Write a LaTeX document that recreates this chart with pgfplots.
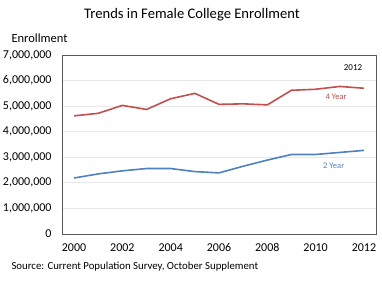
\documentclass[border=0pt]{standalone}
\usepackage{pgfplots}
\pgfplotsset{compat=1.18}
\usepackage{fontspec}
\setmainfont{Carlito}
\definecolor{fourcol}{HTML}{C0504D}
\definecolor{twocol}{HTML}{4F81BD}
\begin{document}
\begin{tikzpicture}
\begin{axis}[
  at={(62bp,54bp)}, anchor=south west,
  scale only axis, width=314bp, height=179bp,
  xmin=1999.5, xmax=2012.5, ymin=0, ymax=7000000,
  xtick={2000,2002,...,2012},
  xticklabel style={font=\fontsize{12bp}{14bp}\selectfont, /pgf/number format/1000 sep={}, yshift=-6bp},
  x tick label style={/pgf/number format/1000 sep={}},
  major x tick style={draw=none},
  extra x ticks={2001.5,2003.5,2005.5,2007.5,2009.5,2011.5},
  extra x tick labels={},
  extra x tick style={major tick length=4bp, tick align=inside, major tick style={draw=black!70, line width=0.8bp}},
  ytick={0,1000000,...,7000000},
  scaled y ticks=false,
  yticklabel style={font=\fontsize{12bp}{14bp}\selectfont, /pgf/number format/fixed, /pgf/number format/1000 sep={,}, xshift=-7bp},
  major y tick style={draw=none},
  /pgf/number format/assume math mode=true,
  ymajorgrids, grid style={draw=black!9, line width=0.8bp},
  axis line style={draw=black!65, line width=0.9bp},
  clip=false,
]
\addplot[color=fourcol, line width=1.6bp] coordinates {
(2000,4620000) (2001,4720000) (2002,5030000) (2003,4870000) (2004,5290000)
(2005,5500000) (2006,5070000) (2007,5090000) (2008,5050000) (2009,5620000)
(2010,5660000) (2011,5770000) (2012,5700000)};
\addplot[color=twocol, line width=1.6bp] coordinates {
(2000,2190000) (2001,2350000) (2002,2470000) (2003,2560000) (2004,2560000)
(2005,2440000) (2006,2390000) (2007,2650000) (2008,2890000) (2009,3110000)
(2010,3110000) (2011,3190000) (2012,3270000)};
\node[font=\fontsize{8.5bp}{10bp}\selectfont, text=fourcol] at (axis cs:2010.85,5350000) {4 Year};
\node[font=\fontsize{8.5bp}{10bp}\selectfont, text=twocol] at (axis cs:2010.75,2660000) {2 Year};
\node[font=\fontsize{9bp}{10bp}\selectfont] at (axis cs:2011.55,6500000) {2012};
\end{axis}
\node[font=\fontsize{14.6bp}{16bp}\selectfont] at (192bp,273bp) {Trends in Female College Enrollment};
\node[font=\fontsize{12.5bp}{14bp}\selectfont, anchor=west] at (8bp,250bp) {Enrollment};
\node[font=\fontsize{10.8bp}{12bp}\selectfont, anchor=west] at (8bp,21bp) {Source: Current Population Survey, October Supplement};
\pgfresetboundingbox
\path (0,0) rectangle (382bp,288bp);
\end{tikzpicture}
\end{document}
